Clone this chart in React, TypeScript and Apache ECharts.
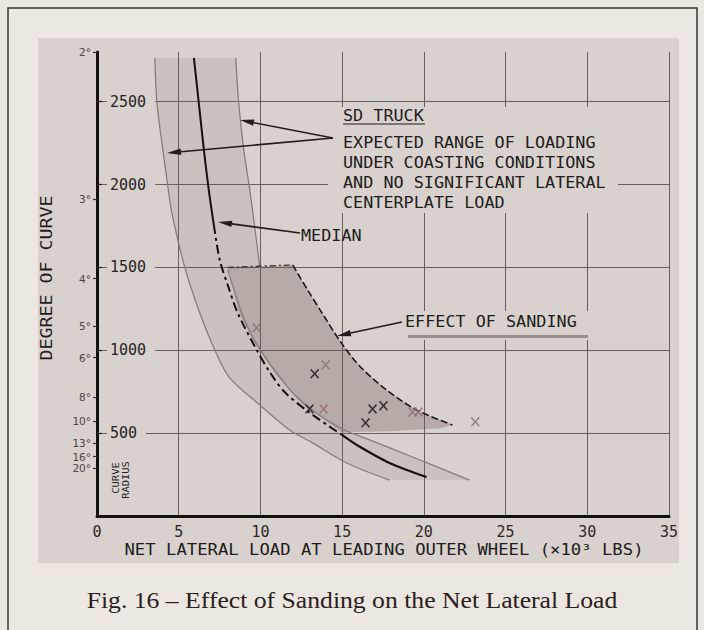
import React, { useEffect, useRef } from 'react';
import * as echarts from 'echarts';

// ---- data ----
const xMin = 0;
const xMax = 35;
const xStep = 5;
const radiusTicks = [500, 1000, 1500, 2000, 2500];
const radiusMax = 2800;
const degreeLabels = ['2°', '3°', '4°', '5°', '6°', '8°', '10°', '13°', '16°', '20°'];
const degreeRadius = [2800, 1910, 1433, 1146, 955, 716, 573, 441, 358, 287];

// expected range band (SD truck, coasting)
const leftBoundary = [
  [3.54, 2764], [3.67, 2492], [4.03, 2209], [4.34, 1986], [4.58, 1829], [5.38, 1497],
  [6.29, 1225], [7.21, 1002], [8.12, 833], [9.96, 670], [11.79, 519], [13.19, 441],
  [15.27, 320], [17.9, 217],
];
const upperRightBoundary = [
  [8.49, 2764], [8.67, 2492], [8.98, 2209], [9.35, 1967], [9.65, 1744], [9.83, 1605], [9.96, 1497],
];
const lowerRightBoundary = [
  [8.0, 1485], [8.86, 1225], [9.53, 1080], [10.2, 972], [11.18, 839], [12.1, 730],
  [13.5, 616], [15.15, 519], [16.68, 459], [19.3, 356], [22.79, 217],
];
const median = [
  [5.93, 2764], [6.23, 2492], [6.54, 2209], [6.84, 1967], [7.15, 1756], [7.51, 1545],
  [8.0, 1394], [8.61, 1225], [9.77, 1002], [10.57, 869], [11.48, 748], [13.03, 622],
  [14.99, 489], [15.89, 429], [17.9, 320], [20.16, 235],
];
// effect of sanding region
const sandingLeft = [[8.0, 1500], [8.7, 1225], [9.6, 1050], [10.9, 860], [12.5, 680], [14.99, 505]];
const sandingBottom = [[14.99, 505], [18.0, 512], [21.0, 530], [21.75, 549]];
const sandingRight = [
  [11.97, 1515], [12.89, 1364], [13.81, 1219], [14.91, 1050], [16.07, 905],
  [17.72, 760], [19.55, 640], [21.75, 549],
];
// test points
const darkMarks = [[13.32, 858], [13.0, 646], [16.86, 646], [17.53, 665], [16.43, 562]];
const faintMarks = [[9.77, 1136], [13.99, 912], [13.87, 646], [19.3, 628], [19.67, 628], [23.15, 568]];

// ---- styling ----
const PAGE = '#ede7e1';
const PANEL = '#d8d1cd';
const INK = '#221c1c';
const GRID = '#676060';
const CURVE = '#877d7b';
const MONO = '"DejaVu Sans Mono", monospace';
const CROSS = 'path://M0,1.2L1.2,0L5,3.8L8.8,0L10,1.2L6.2,5L10,8.8L8.8,10L5,6.2L1.2,10L0,8.8L3.8,5Z';

function lett(text: string, x: number, y: number, align = 'left', size = 15, sx = 1.12, rot = 0): any {
  return {
    type: 'text', x, y, scaleX: sx, rotation: rot, z: 10,
    style: {
      text, fontSize: size, fontFamily: MONO, fill: INK,
      textAlign: align, textVerticalAlign: 'middle',
    },
  };
}

function arrow(x1: number, y1: number, x2: number, y2: number): any[] {
  const dx = x2 - x1, dy = y2 - y1;
  const len = Math.hypot(dx, dy);
  const ux = dx / len, uy = dy / len;
  const bx = x2 - ux * 14, by = y2 - uy * 14;
  const nx = -uy, ny = ux;
  return [
    { type: 'line', z: 10, shape: { x1, y1, x2: bx, y2: by }, style: { stroke: INK, lineWidth: 1.6 } },
    {
      type: 'polygon', z: 10,
      shape: { points: [[x2, y2], [bx + nx * 3.2, by + ny * 3.2], [bx - nx * 3.2, by - ny * 3.2]] },
      style: { fill: INK },
    },
  ];
}

function polySeries(points: number[][], fill: string, z: number): any {
  return {
    type: 'custom',
    coordinateSystem: 'cartesian2d',
    data: [[points[0][0], points[0][1]]],
    silent: true,
    z,
    renderItem: (_p: any, api: any) => ({
      type: 'polygon',
      shape: { points: points.map((p) => api.coord(p)) },
      style: { fill, stroke: 'none' },
    }),
  };
}

function lineSeries(data: number[][], color: string, width: number, type: any = 'solid'): any {
  return {
    type: 'line',
    data,
    smooth: 0.3,
    showSymbol: false,
    silent: true,
    z: 3,
    lineStyle: { color, width, type },
  };
}

export default function App() {
  const ref = useRef<HTMLDivElement>(null);

  useEffect(() => {
    if (!ref.current) return;
    const chart = echarts.init(ref.current, undefined, { renderer: 'svg' });

    const bandPoly = [
      ...leftBoundary,
      ...[...lowerRightBoundary].reverse(),
      ...[...upperRightBoundary].reverse(),
    ];
    const sandPoly = [
      ...sandingLeft,
      ...sandingBottom.slice(1),
      ...[...sandingRight].reverse().slice(1),
    ];

    const option: any = {
      animation: false,
      backgroundColor: PAGE,
      grid: { left: 97, right: 35, top: 52, bottom: 114, containLabel: false },
      xAxis: {
        type: 'value', min: xMin, max: xMax, interval: xStep,
        axisLine: { show: true, lineStyle: { color: '#141010', width: 3 } },
        axisTick: { show: false },
        axisLabel: { fontFamily: MONO, fontSize: 15, color: '#2f2828', margin: 8 },
        splitLine: { show: true, lineStyle: { color: GRID, width: 1 } },
      },
      yAxis: [
        {
          type: 'value', min: 0, max: radiusMax, position: 'left',
          axisLine: { show: true, onZero: false, lineStyle: { color: '#141010', width: 3 } },
          axisTick: { show: true, inside: true, length: 5, customValues: radiusTicks, lineStyle: { color: INK, width: 1.2 } },
          axisLabel: {
            inside: true, margin: 10, customValues: radiusTicks,
            fontFamily: MONO, fontSize: 15, color: '#2a2424',
            backgroundColor: PANEL, padding: [1, 9, 1, 3],
            formatter: (v: number) => String(v),
          },
          splitLine: { show: true, lineStyle: { color: GRID, width: 1 } },
        },
        {
          type: 'value', min: 0, max: radiusMax, position: 'left', offset: 0,
          axisLine: { show: false },
          axisTick: { show: true, inside: false, length: 4, customValues: degreeRadius, lineStyle: { color: '#3a3232', width: 1.2 } },
          axisLabel: {
            customValues: degreeRadius, margin: 6,
            fontFamily: '"DejaVu Sans", sans-serif', fontSize: 10.5, color: '#4e4444',
            formatter: (v: number) => {
              const i = degreeRadius.indexOf(v);
              return i >= 0 ? degreeLabels[i] : '';
            },
          },
          splitLine: { show: false },
        },
      ],
      series: [
        polySeries(bandPoly, 'rgba(110,92,92,0.13)', 1),
        polySeries(sandPoly, 'rgba(95,72,72,0.27)', 1),
        lineSeries(leftBoundary, CURVE, 1.3),
        lineSeries(upperRightBoundary, CURVE, 1.3),
        lineSeries(lowerRightBoundary, CURVE, 1.3),
        lineSeries(median.slice(0, 5), '#151010', 2),
        lineSeries(median.slice(4, 13), '#151010', 2, [9, 4, 3, 4]),
        lineSeries(median.slice(12), '#151010', 2.2),
        lineSeries(sandingRight, '#221a1a', 1.6, [7, 3]),
        lineSeries([sandingLeft[0], sandingRight[0]], '#3a3030', 1.3, [6, 3, 2, 3]),
        {
          type: 'scatter', data: darkMarks, symbol: CROSS, symbolSize: [9, 10], z: 4, silent: true,
          itemStyle: { color: '#1e1818' },
        },
        {
          type: 'scatter', data: faintMarks, symbol: CROSS, symbolSize: [9, 10], z: 4, silent: true,
          itemStyle: { color: '#8c7070' },
        },
      ],
      graphic: [
        { type: 'rect', z: -10, silent: true, shape: { x: 38, y: 38, width: 641, height: 525 }, style: { fill: PANEL } },
        { type: 'rect', z: -10, silent: true, shape: { x: 8, y: 8, width: 689, height: 640 }, style: { fill: 'none', stroke: '#3c3434', lineWidth: 1.5 } },
        // masks behind annotation blocks
        { type: 'rect', z: 1, silent: true, shape: { x: 328, y: 107, width: 290, height: 106 }, style: { fill: PANEL } },
        { type: 'rect', z: 1, silent: true, shape: { x: 400, y: 311, width: 195, height: 29 }, style: { fill: PANEL } },
        lett('SD TRUCK', 343, 116),
        { type: 'line', z: 10, shape: { x1: 343, y1: 124, x2: 425, y2: 124 }, style: { stroke: INK, lineWidth: 1.2 } },
        lett('EXPECTED RANGE OF LOADING', 343, 142.5),
        lett('UNDER COASTING CONDITIONS', 343, 162.5),
        lett('AND NO SIGNIFICANT LATERAL', 343, 183),
        lett('CENTERPLATE LOAD', 343, 203),
        ...arrow(333, 138, 240, 120),
        ...arrow(333, 138, 167, 153),
        lett('MEDIAN', 301, 236),
        ...arrow(300, 233, 218, 222),
        lett('EFFECT OF SANDING', 405, 321.5),
        { type: 'line', z: 10, shape: { x1: 408, y1: 336.5, x2: 588, y2: 336.5 }, style: { stroke: '#9a8f8d', lineWidth: 3 } },
        ...arrow(402, 322, 337, 336),
        lett('DEGREE OF CURVE', 47, 278, 'center', 15, 1.22, Math.PI / 2),
        lett('CURVE', 116, 478, 'center', 9.5, 1.1, Math.PI / 2),
        lett('RADIUS', 126, 480, 'center', 9.5, 1.1, Math.PI / 2),
        lett('NET LATERAL LOAD AT LEADING OUTER WHEEL (×10³ LBS)', 384, 550, 'center', 15, 1.15),
        {
          type: 'text', x: 352, y: 600, z: 10, scaleX: 1.07,
          style: {
            text: 'Fig. 16 – Effect of Sanding on the Net Lateral Load',
            fontSize: 24, fontFamily: '"Liberation Serif", "Times New Roman", serif',
            fill: '#2a2020', textAlign: 'center', textVerticalAlign: 'middle',
          },
        },
      ],
    };

    chart.setOption(option);
    return () => chart.dispose();
  }, []);

  return (
    <div
      ref={ref}
      style={{ position: 'fixed', left: 0, top: 0, width: 704, height: 630 }}
    />
  );
}
